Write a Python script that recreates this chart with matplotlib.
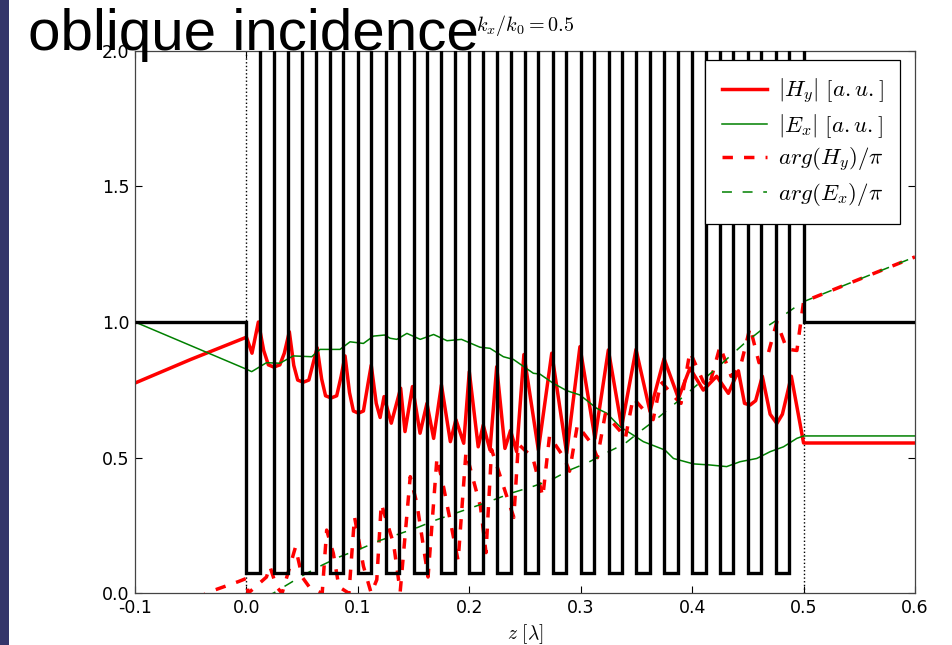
import numpy as np
import matplotlib
matplotlib.use("Agg")
import matplotlib.pyplot as plt
from matplotlib.patches import Rectangle

plt.rcParams["axes.unicode_minus"] = False
plt.rcParams["mathtext.fontset"] = "cm"

# ---- layered structure (relative permittivity profile) ----
n_periods = 20
period = 0.025
low_width = 0.012
eps_outside = 1.0
eps_low = 0.075
eps_high = 4.0
z_min, z_max = -0.1, 0.6
stack_start, stack_end = 0.0, 0.5

# ---- |H_y| ----
hy_z = [-0.1, -0.05, 0.0, 0.005, 0.0107, 0.0155, 0.0197, 0.0245, 0.030, 0.034,
        0.0385, 0.0425, 0.046, 0.051, 0.056, 0.060, 0.0635, 0.0675, 0.071, 0.076,
        0.081, 0.085, 0.0885, 0.0925, 0.096, 0.1005, 0.105, 0.109, 0.112, 0.1165,
        0.120, 0.1235, 0.130, 0.1384, 0.1423, 0.149, 0.1558, 0.162, 0.168, 0.175,
        0.183, 0.188, 0.195, 0.200, 0.208, 0.2125, 0.2186, 0.2246, 0.232, 0.237,
        0.2425, 0.249, 0.262, 0.274, 0.2874, 0.2993, 0.3128, 0.3248, 0.3367, 0.3496,
        0.3622, 0.3748, 0.3877, 0.398, 0.410, 0.422, 0.4325, 0.4415, 0.447, 0.452,
        0.457, 0.463, 0.470, 0.476, 0.481, 0.489, 0.500, 0.600]
hy_v = [0.775, 0.862, 0.944, 0.885, 1.000, 0.895, 0.842, 0.834, 0.842, 0.885,
        0.964, 0.840, 0.786, 0.778, 0.786, 0.850, 0.905, 0.790, 0.728, 0.720,
        0.728, 0.800, 0.875, 0.740, 0.672, 0.664, 0.672, 0.770, 0.841, 0.700,
        0.648, 0.725, 0.627, 0.756, 0.596, 0.762, 0.590, 0.700, 0.571, 0.768,
        0.559, 0.640, 0.553, 0.817, 0.540, 0.620, 0.528, 0.835, 0.534, 0.600,
        0.522, 0.880, 0.528, 0.885, 0.516, 0.909, 0.571, 0.897, 0.614, 0.899,
        0.670, 0.865, 0.719, 0.830, 0.749, 0.800, 0.737, 0.820, 0.700, 0.694,
        0.710, 0.800, 0.660, 0.626, 0.660, 0.800, 0.554, 0.554]

# ---- |E_x| ----
ex_z = [-0.1, 0.0, 0.0047, 0.012, 0.018, 0.030, 0.042, 0.0586, 0.066, 0.084,
        0.093, 0.105, 0.114, 0.124, 0.129, 0.135, 0.144, 0.156, 0.168, 0.180,
        0.193, 0.2096, 0.2186, 0.2306, 0.2396, 0.2575, 0.2634, 0.2754, 0.2874, 0.2993,
        0.3143, 0.3233, 0.3352, 0.3472, 0.3562, 0.3756, 0.3832, 0.4011, 0.416, 0.431,
        0.443, 0.458, 0.470, 0.482, 0.4939, 0.500, 0.600]
ex_v = [1.0, 0.826, 0.817, 0.835, 0.850, 0.848, 0.875, 0.872, 0.899, 0.899,
        0.927, 0.921, 0.948, 0.952, 0.940, 0.936, 0.958, 0.936, 0.954, 0.931,
        0.936, 0.907, 0.903, 0.872, 0.862, 0.811, 0.808, 0.774, 0.747, 0.731,
        0.682, 0.664, 0.614, 0.583, 0.559, 0.528, 0.497, 0.477, 0.473, 0.467,
        0.485, 0.497, 0.522, 0.540, 0.571, 0.580, 0.580]

# ---- arg(H_y)/pi ----
argh_z = [-0.045, -0.0327, -0.0073, 0.0, 0.0015, 0.018, 0.021, 0.027, 0.032, 0.044,
          0.050, 0.057, 0.068, 0.072, 0.078, 0.083, 0.092, 0.097, 0.105, 0.112,
          0.117, 0.121, 0.132, 0.138, 0.147, 0.153, 0.163, 0.171, 0.177, 0.190,
          0.197, 0.210, 0.215, 0.220, 0.235, 0.240, 0.244, 0.257, 0.266, 0.272,
          0.285, 0.290, 0.297, 0.310, 0.315, 0.322, 0.335, 0.340, 0.347, 0.360,
          0.365, 0.372, 0.385, 0.390, 0.398, 0.410, 0.415, 0.425, 0.435, 0.443,
          0.452, 0.460, 0.468, 0.476, 0.485, 0.494, 0.500, 0.600]
argh_v = [-0.02, 0.006, 0.043, 0.055, 0.0, 0.06, 0.10, 0.024, 0.0, 0.17,
          0.06, 0.02, 0.0, 0.233, 0.147, 0.024, 0.0, 0.282, 0.10, 0.0,
          0.05, 0.33, 0.184, 0.006, 0.43, 0.33, 0.06, 0.50, 0.39, 0.12,
          0.52, 0.32, 0.15, 0.53, 0.34, 0.28, 0.55, 0.50, 0.356, 0.58,
          0.50, 0.45, 0.62, 0.55, 0.50, 0.66, 0.60, 0.57, 0.72, 0.66,
          0.64, 0.78, 0.72, 0.70, 0.89, 0.78, 0.76, 0.91, 0.80, 0.83,
          0.98, 0.85, 0.88, 1.00, 0.90, 0.895, 1.075, 1.24]

# ---- arg(E_x)/pi ----
arge_z = [0.0, 0.024, 0.036, 0.051, 0.068, 0.084, 0.1035, 0.120, 0.152, 0.170,
          0.1875, 0.2065, 0.2215, 0.239, 0.2565, 0.2735, 0.2905, 0.3065, 0.3235, 0.339,
          0.355, 0.368, 0.395, 0.422, 0.4465, 0.461, 0.476, 0.493, 0.500, 0.600]
arge_v = [-0.03, 0.0, 0.03, 0.067, 0.104, 0.135, 0.166, 0.195, 0.240, 0.270,
          0.295, 0.322, 0.344, 0.371, 0.393, 0.418, 0.455, 0.482, 0.519, 0.550,
          0.602, 0.642, 0.735, 0.830, 0.920, 0.967, 1.007, 1.056, 1.075, 1.240]

x_ticks = [-0.1, 0.0, 0.1, 0.2, 0.3, 0.4, 0.5, 0.6]
y_ticks = [0.0, 0.5, 1.0, 1.5, 2.0]

# step edges and values of the permittivity profile
edges = [z_min, stack_start]
values = [eps_outside]
for k in range(n_periods):
    z0 = stack_start + k * period
    edges += [z0 + low_width, z0 + period]
    values += [eps_low, eps_high]
edges.append(z_max)
values.append(eps_outside)

W, H = 952, 645
fig = plt.figure(figsize=(W / 100, H / 100), dpi=100)
fig.patch.set_facecolor("white")

# slide side bar
fig.patches.append(Rectangle((0, 0), 9 / W, 1, transform=fig.transFigure,
                             facecolor="#34356a", edgecolor="none", zorder=0))

ax = fig.add_axes([135 / W, (H - 593.3) / H, 780 / W, 542.6 / H])

l_hy, = ax.plot(hy_z, hy_v, color="red", lw=2.5, solid_joinstyle="round",
                label=r"$|H_y|\ [a.u.]$", zorder=2)
l_ex, = ax.plot(ex_z, ex_v, color="green", lw=1.1,
                label=r"$|E_x|\ [a.u.]$", zorder=2)
l_ah, = ax.plot(argh_z, argh_v, color="red", lw=2.5, dashes=(3.0, 3.2),
                label=r"$arg(H_y)/\pi$", zorder=2)
l_ae, = ax.plot(arge_z, arge_v, color="green", lw=1.1, dashes=(6.5, 7.0),
                label=r"$arg(E_x)/\pi$", zorder=2)

ax.stairs(values, edges, baseline=None, color="black", lw=2.4, zorder=3)
for zb in (stack_start, stack_end):
    ax.axvline(zb, color="black", lw=1.0, ls=":", zorder=1)

ax.set_xlim(z_min, z_max)
ax.set_ylim(0.0, 2.0)
ax.set_xticks(x_ticks)
ax.set_yticks(y_ticks)
ax.set_xticklabels([f"{v:.1f}" for v in x_ticks])
ax.set_yticklabels([f"{v:.1f}" for v in y_ticks])
ax.tick_params(direction="in", length=5, width=0.8, top=True, right=True,
               labelsize=12.5, pad=4)
for s in ax.spines.values():
    s.set_linewidth(0.9)
    s.set_color("#444444")

ax.set_xlabel(r"$z\ [\lambda]$", fontsize=14, labelpad=4)
ax.set_title(r"$k_x/k_0{=}0.5$", fontsize=14.5, pad=14)

leg = ax.legend(handles=[l_hy, l_ex, l_ah, l_ae], loc="upper right",
                bbox_to_anchor=(0.981, 0.983), borderaxespad=0.0,
                fontsize=16.5, handlelength=2.0, handletextpad=0.45,
                labelspacing=0.28, borderpad=0.72,
                fancybox=False, framealpha=1.0, edgecolor="black")
leg.get_frame().set_linewidth(0.9)
leg.set_zorder(5)

fig.text(28 / W, (H - 50) / H, "oblique incidence", fontsize=42,
         family="Liberation Sans", ha="left", va="baseline", zorder=10)

fig.savefig("out.png", dpi=100)
